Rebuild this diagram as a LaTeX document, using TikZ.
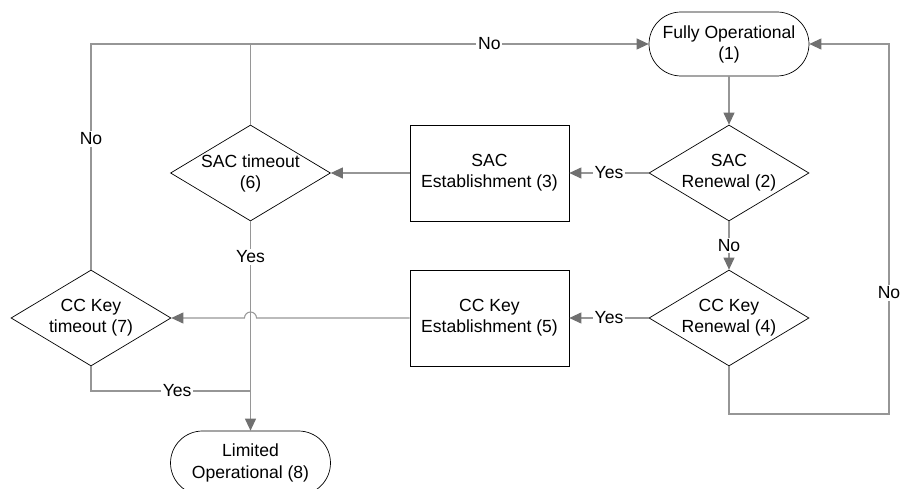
\documentclass[tikz,border=0pt]{standalone}
\usepackage{fontspec}
\setmainfont{Liberation Sans}
\usetikzlibrary{shapes.geometric}
\usetikzlibrary{arrows.meta}

\definecolor{linegray}{RGB}{150,150,150}
\definecolor{tipgray}{RGB}{112,112,112}

\tikzset{
  term/.style={draw, rounded corners=0.64cm, minimum width=3.2cm, minimum height=1.28cm, align=center, inner sep=0pt},
  process/.style={draw, minimum width=3.18cm, minimum height=1.92cm, align=center, inner sep=0pt},
  decision/.style={draw, diamond, aspect=1.667, minimum width=3.2cm, minimum height=1.92cm, align=center, inner sep=-1pt},
  conn/.style={draw=linegray, line width=0.6pt},
  arr/.style={conn, -{Triangle[length=0.24cm, width=0.22cm, color=tipgray]}},
  lbl/.style={fill=white, inner sep=1pt, text=black}
}

\begin{document}
\begin{tikzpicture}[x=0.02cm, y=-0.02cm, font=\fontsize{10}{12}\selectfont]
\useasboundingbox (0,0) rectangle (900,489);

% states
\node[term] (fo) at (729,44) {Fully Operational\\(1)};
\node[term] (lo) at (250.5,463) {Limited\\Operational (8)};

% SAC branch
\node[decision] (sr) at (729,173) {SAC\\Renewal (2)};
\node[process] (se) at (489.5,173) {SAC\\Establishment (3)};
\node[decision] (sto) at (250.5,173) {SAC timeout\\(6)};

% CC key branch
\node[decision] (cr) at (729,318) {CC Key\\Renewal (4)};
\node[process] (ce) at (489.5,318) {CC Key\\Establishment (5)};
\node[decision] (cto) at (91,318) {CC Key\\timeout (7)};

\coordinate (top) at (250.5,44);
\coordinate (join) at (250.5,391);
\coordinate (jmp) at (256.5,318);
\coordinate (rb) at (889,414);

% connectors
\draw[arr] (fo.south) -- (sr.north);
\draw[arr] (sr.west) -- (se.east) node[lbl, midway] {Yes};
\draw[arr] (se.west) -- (sto.east);
\draw[arr] (sr.south) -- (cr.north) node[lbl, midway] {No};
\draw[arr] (cr.west) -- (ce.east) node[lbl, midway] {Yes};
\draw[arr] (ce.west) -- (jmp) arc[start angle=0, end angle=180, radius=0.12cm] -- (cto.east);

\draw[arr] (sto.north) |- (fo.west) node[lbl, pos=0.80] {No};
\draw[conn] (cto.north) |- (top) node[lbl, pos=0.29] {No};
\draw[arr] (sto.south) -- (lo.north) node[lbl, pos=0.17] {Yes};
\draw[conn] (cto.south) |- (join) node[lbl, pos=0.77] {Yes};

\draw[arr] (cr.south) |- (rb) |- (fo.east) node[lbl, pos=0.164] {No};

\end{tikzpicture}
\end{document}
